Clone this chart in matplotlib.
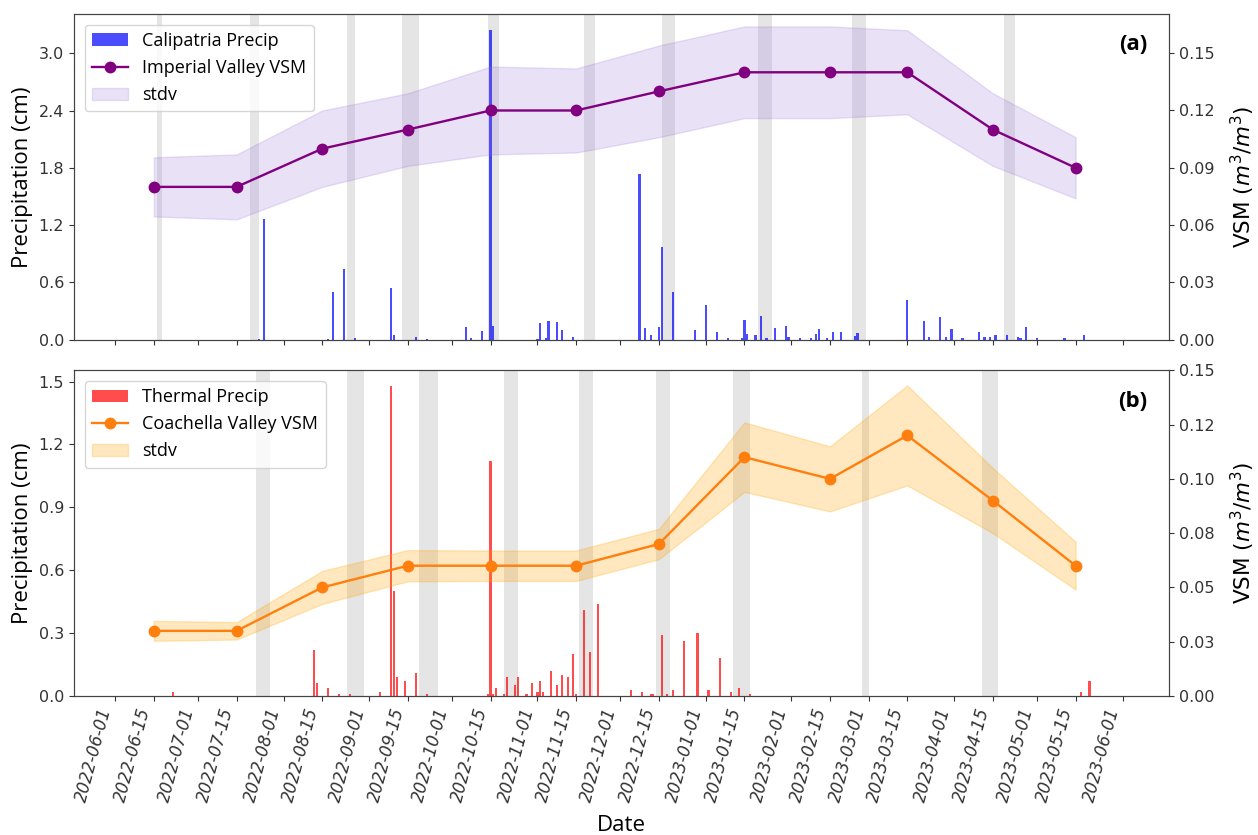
import matplotlib
matplotlib.use("Agg")
import matplotlib.pyplot as plt
import matplotlib.dates as mdates
import numpy as np
import pandas as pd

# monthly VSM samples
vsm_dates = ["2022-06-15", "2022-07-15", "2022-08-15", "2022-09-15", "2022-10-15", "2022-11-15",
             "2022-12-15", "2023-01-15", "2023-02-15", "2023-03-15", "2023-04-15", "2023-05-15"]
imperial_vsm = [0.08, 0.08, 0.10, 0.11, 0.12, 0.12, 0.13, 0.14, 0.14, 0.14, 0.11, 0.09]
imperial_std = [0.0155, 0.017, 0.020, 0.019, 0.023, 0.022, 0.024, 0.024, 0.024, 0.022, 0.019, 0.016]
coachella_vsm = [0.03, 0.03, 0.05, 0.06, 0.06, 0.06, 0.07, 0.11, 0.10, 0.12, 0.09, 0.06]
coachella_std = [0.0046, 0.004, 0.0076, 0.0072, 0.007, 0.007, 0.007, 0.016, 0.015, 0.023, 0.015, 0.011]

# daily precipitation (cm)
calipatria_dates = ["2022-07-23", "2022-07-25", "2022-08-17", "2022-08-19", "2022-08-23", "2022-08-27",
                    "2022-09-09", "2022-09-10", "2022-09-18", "2022-09-22", "2022-10-06", "2022-10-08",
                    "2022-10-12", "2022-10-15", "2022-10-16", "2022-11-01", "2022-11-02", "2022-11-04",
                    "2022-11-05", "2022-11-08", "2022-11-10", "2022-11-14", "2022-12-08", "2022-12-10",
                    "2022-12-12", "2022-12-15", "2022-12-16", "2022-12-20", "2022-12-28", "2023-01-01",
                    "2023-01-05", "2023-01-09", "2023-01-14", "2023-01-15", "2023-01-16", "2023-01-19",
                    "2023-01-21", "2023-01-23", "2023-01-26", "2023-01-30", "2023-01-31", "2023-02-04",
                    "2023-02-08", "2023-02-10", "2023-02-11", "2023-02-14", "2023-02-16", "2023-02-19",
                    "2023-02-24", "2023-02-25", "2023-03-15", "2023-03-21", "2023-03-23", "2023-03-27",
                    "2023-03-29", "2023-03-31", "2023-04-04", "2023-04-10", "2023-04-12", "2023-04-14",
                    "2023-04-16", "2023-04-20", "2023-04-24", "2023-04-25", "2023-04-27", "2023-05-01",
                    "2023-05-11", "2023-05-18"]
calipatria_precip = [0.01, 1.26, 0.01, 0.50, 0.74, 0.02,
                     0.54, 0.05, 0.03, 0.01, 0.13, 0.02,
                     0.09, 3.25, 0.14, 0.01, 0.17, 0.02,
                     0.20, 0.19, 0.10, 0.03, 1.74, 0.12,
                     0.05, 0.13, 0.97, 0.50, 0.10, 0.36,
                     0.08, 0.02, 0.015, 0.21, 0.06, 0.05,
                     0.245, 0.015, 0.12, 0.14, 0.03, 0.015,
                     0.015, 0.06, 0.11, 0.015, 0.08, 0.08,
                     0.04, 0.07, 0.42, 0.20, 0.03, 0.24,
                     0.03, 0.11, 0.015, 0.08, 0.03, 0.03,
                     0.05, 0.05, 0.03, 0.02, 0.13, 0.02,
                     0.015, 0.05]

thermal_dates = ["2022-06-22", "2022-08-12", "2022-08-13", "2022-08-17", "2022-08-21", "2022-08-25",
                 "2022-09-05", "2022-09-09", "2022-09-10", "2022-09-11", "2022-09-14", "2022-09-18",
                 "2022-09-22", "2022-10-14", "2022-10-15", "2022-10-16", "2022-10-17", "2022-10-20",
                 "2022-10-21", "2022-10-24", "2022-10-25", "2022-10-28", "2022-10-30", "2022-11-01",
                 "2022-11-02", "2022-11-03", "2022-11-06", "2022-11-08", "2022-11-10", "2022-11-12",
                 "2022-11-14", "2022-11-15", "2022-11-18", "2022-11-20", "2022-11-23", "2022-12-05",
                 "2022-12-09", "2022-12-12", "2022-12-13", "2022-12-16", "2022-12-18", "2022-12-20",
                 "2022-12-24", "2022-12-29", "2023-01-02", "2023-01-06", "2023-01-10", "2023-01-13",
                 "2023-01-17", "2023-05-17", "2023-05-20"]
thermal_precip = [0.02, 0.22, 0.06, 0.04, 0.01, 0.01,
                  0.02, 1.48, 0.50, 0.09, 0.07, 0.11,
                  0.01, 0.01, 1.12, 0.01, 0.04, 0.01,
                  0.09, 0.05, 0.09, 0.01, 0.06, 0.02,
                  0.07, 0.02, 0.12, 0.05, 0.10, 0.09,
                  0.20, 0.01, 0.41, 0.21, 0.44, 0.03,
                  0.02, 0.01, 0.01, 0.29, 0.01, 0.03,
                  0.26, 0.30, 0.03, 0.18, 0.02, 0.04,
                  0.01, 0.02, 0.07]

# grey windows
imperial_spans = [("2022-06-16", "2022-06-18"), ("2022-07-20", "2022-07-23"), ("2022-08-24", "2022-08-27"),
                  ("2022-09-13", "2022-09-19"), ("2022-10-14", "2022-10-18"), ("2022-11-18", "2022-11-22"),
                  ("2022-12-16", "2022-12-21"), ("2023-01-20", "2023-01-25"), ("2023-02-23", "2023-02-28"),
                  ("2023-04-19", "2023-04-23")]
coachella_spans = [("2022-07-22", "2022-07-27"), ("2022-08-24", "2022-08-30"), ("2022-09-19", "2022-09-26"),
                   ("2022-10-20", "2022-10-25"), ("2022-11-16", "2022-11-21"), ("2022-12-14", "2022-12-19"),
                   ("2023-01-11", "2023-01-17"), ("2023-02-26 12:00", "2023-03-01"), ("2023-04-11", "2023-04-17")]

date_ticks = pd.date_range("2022-06-01", "2023-06-01", freq="SMS")
top_precip_ticks = [0.0, 0.6, 1.2, 1.8, 2.4, 3.0]
bot_precip_ticks = [0.0, 0.3, 0.6, 0.9, 1.2, 1.5]
top_vsm_ticks = [0.0, 0.03, 0.06, 0.09, 0.12, 0.15]
top_vsm_labels = ["0.00", "0.03", "0.06", "0.09", "0.12", "0.15"]
bot_vsm_ticks = [0.0, 0.025, 0.05, 0.075, 0.10, 0.125, 0.15]
bot_vsm_labels = ["0.00", "0.03", "0.05", "0.08", "0.10", "0.12", "0.15"]

LABEL_FONT = "Open Sans"
EDGE = "#444444"


def panel(ax, spans, bar_dates, bar_vals, bar_color, bar_label, vsm, std, line_color,
          band_color, band_alpha, vsm_label, tag, precip_ticks, vsm_top, vsm_ticks, vsm_labels):
    for s, e in spans:
        ax.axvspan(pd.Timestamp(s), pd.Timestamp(e), color="grey", alpha=0.2, lw=0, zorder=0)
    ax.bar(pd.to_datetime(bar_dates), bar_vals, width=0.8, color=bar_color, alpha=0.7,
           lw=0, label=bar_label)
    ax.set_yticks(precip_ticks)
    ax.set_ylabel("Precipitation (cm)", fontsize=16, family=LABEL_FONT)

    axr = ax.twinx()
    d = pd.to_datetime(vsm_dates)
    m = np.array(vsm)
    sd = np.array(std)
    axr.plot(d, m, "-o", color=line_color, lw=1.7, ms=7.5, label=vsm_label)
    axr.fill_between(d, m - sd, m + sd, color=band_color, alpha=band_alpha, label="stdv")
    axr.set_ylim(0, vsm_top)
    axr.set_yticks(vsm_ticks, labels=vsm_labels)
    axr.set_ylabel(r"VSM ($m^3/m^3$)", fontsize=15.5, labelpad=10)

    for a in (ax, axr):
        for sp in a.spines.values():
            sp.set_color(EDGE)
        a.tick_params(labelsize=11.5, colors="#333333")

    h1, l1 = ax.get_legend_handles_labels()
    h2, l2 = axr.get_legend_handles_labels()
    axr.legend(h1 + h2, l1 + l2, loc="upper left", prop={"family": LABEL_FONT, "size": 13},
               borderaxespad=0.6)
    ax.text(0.98, 0.905, tag, transform=ax.transAxes, ha="right", va="center",
            fontsize=16, fontweight="bold", family=LABEL_FONT)
    return axr


fig, (ax1, ax2) = plt.subplots(2, 1, figsize=(12.58, 8.35), dpi=100, sharex=True)
fig.subplots_adjust(left=0.0587, right=0.9296, top=0.9832, bottom=0.1665, hspace=0.094)

panel(ax1, imperial_spans, calipatria_dates, calipatria_precip, "blue", "Calipatria Precip",
      imperial_vsm, imperial_std, "purple", "mediumpurple", 0.2, "Imperial Valley VSM", "(a)",
      top_precip_ticks, 0.1705, top_vsm_ticks, top_vsm_labels)
panel(ax2, coachella_spans, thermal_dates, thermal_precip, "red", "Thermal Precip",
      coachella_vsm, coachella_std, "#ff7f0e", "orange", 0.25, "Coachella Valley VSM", "(b)",
      bot_precip_ticks, 0.15, bot_vsm_ticks, bot_vsm_labels)

ax2.set_xlim(pd.Timestamp("2022-05-17"), pd.Timestamp("2023-06-18"))
ax2.set_xticks(date_ticks)
ax2.xaxis.set_major_formatter(mdates.DateFormatter("%Y-%m-%d"))
for lab in ax2.get_xticklabels():
    lab.set_rotation(75)
    lab.set_ha("right")
    lab.set_style("italic")
    lab.set_fontsize(12)
ax2.set_xlabel("Date", fontsize=16, family=LABEL_FONT, labelpad=8)

fig.savefig("out.png", dpi=100)
